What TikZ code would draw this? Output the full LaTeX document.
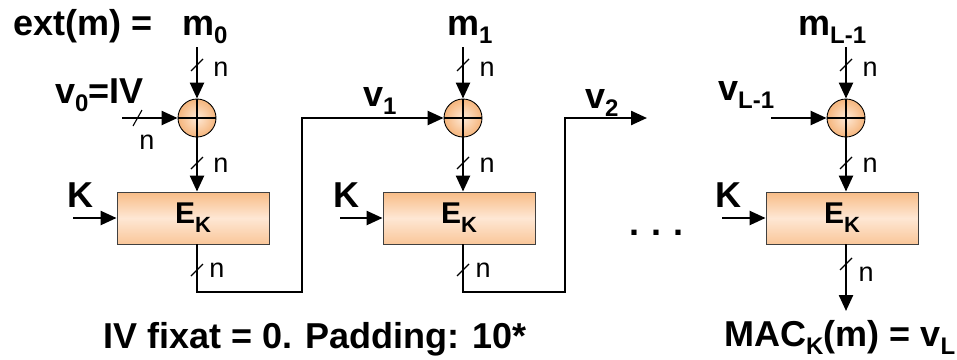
\documentclass[tikz,border=0pt]{standalone}
\usepackage{fontspec}
\setmainfont{Liberation Sans}
\usetikzlibrary{arrows.meta,calc}
\definecolor{boxdark}{HTML}{F8BC86}
\definecolor{boxlight}{HTML}{FEE7D4}
\definecolor{balldark}{HTML}{F5B57C}
\definecolor{balllight}{HTML}{FEE9D6}
\newcommand\sbb[1]{\raisebox{-8pt}{\fontsize{24}{24}\selectfont #1}}
\newcommand\sbe[1]{\raisebox{-9pt}{\fontsize{22}{22}\selectfont #1}}
\tikzset{
  lbl/.style={inner sep=0pt, anchor=base west, font=\bfseries\fontsize{36}{40}\selectfont},
  nl/.style={inner sep=0pt, font=\fontsize{27}{30}\selectfont},
  wire/.style={line width=2.4pt},
  arr/.style={line width=2.4pt, -{Triangle[length=16pt,width=14pt]}},
  busm/.style={line width=1.1pt},
  xorc/.style={circle, draw=black, line width=0.9pt, minimum size=38pt, inner sep=0pt,
     inner color=balllight, outer color=balldark,
     path picture={\draw[line width=1.5pt] (path picture bounding box.north) -- (path picture bounding box.south)
        (path picture bounding box.west) -- (path picture bounding box.east);}},
  ebox/.style={rectangle, draw=black!75, line width=0.9pt, minimum width=152pt, minimum height=52pt,
     inner sep=0pt, top color=boxdark, bottom color=boxdark!75!boxlight, middle color=boxlight,
     font=\bfseries\fontsize{30}{32}\selectfont}
}
\begin{document}
\begin{tikzpicture}[x=1pt,y=-1pt]
\useasboundingbox (0,0) rectangle (957,359);

% text labels
\node[lbl] (ext) at (13,35) {ext(m) =};
\node[lbl] (m0) at (182,35) {m\sbb{0}};
\node[lbl] (m1) at (447,35) {m\sbb{1}};
\node[lbl] (mL) at (798,35) {m\sbb{L-1}};
\node[lbl] (v0) at (55,103) {v\sbb{0}=IV};
\node[lbl] (v1) at (363,106) {v\sbb{1}};
\node[lbl] (v2) at (585,108) {v\sbb{2}};
\node[lbl] (vL) at (718,100) {v\sbb{L-1}};
\node[lbl] (K1) at (67,207) {K};
\node[lbl] (K2) at (333,207) {K};
\node[lbl] (K3) at (715,207) {K};
\node[lbl] (dots) at (629,235) {.\,\,.\,\,.};
\node[lbl] (note) at (103,348) {IV fixat = 0. Padding: 10*};
\node[lbl] (mac) at (724,346) {MAC\sbb{K}(m) = v\sbb{L}};

% xor circles
\node[xorc] (x1) at (197,118) {};
\node[xorc] (x2) at (463,118) {};
\node[xorc] (x3) at (846,118) {};

% boxes
\node[ebox] (b1) at (193,218) {E\sbe{K}};
\node[ebox] (b2) at (459,218) {E\sbe{K}};
\node[ebox] (b3) at (842,218) {E\sbe{K}};

% coordinates
\coordinate (s1) at (197,47);
\coordinate (s2) at (463,47);
\coordinate (s3) at (846,47);
\coordinate (iv) at (122,118);
\coordinate (vLs) at (771,118);
\coordinate (k1) at (73,218);
\coordinate (k2) at (340,218);
\coordinate (k3) at (722,218);
\coordinate (c1a) at (197,292);
\coordinate (c1b) at (302,292);
\coordinate (c1c) at (302,118);
\coordinate (c2a) at (463,292);
\coordinate (c2b) at (565,292);
\coordinate (c2c) at (565,118);
\coordinate (v2e) at (647,118);
\coordinate (out) at (846,311);

% arrows into xor
\draw[arr] (s1) -- (x1);
\draw[arr] (s2) -- (x2);
\draw[arr] (s3) -- (x3);
\draw[arr] (iv) -- (x1);
\draw[arr] (vLs) -- (x3);
% xor to box
\draw[arr] (x1) -- (x1 |- b1.north);
\draw[arr] (x2) -- (x2 |- b2.north);
\draw[arr] (x3) -- (x3 |- b3.north);
% key arrows
\draw[arr] (k1) -- (b1.west);
\draw[arr] (k2) -- (b2.west);
\draw[arr] (k3) -- (b3.west);
% chaining
\draw[arr] (c1a |- b1.south) -- (c1a) -- (c1b) -- (c1c) -- (x2);
\draw[arr] (c2a |- b2.south) -- (c2a) -- (c2b) -- (c2c) -- (v2e);
\draw[arr] (out |- b3.south) -- (out);

% bus width marks
\foreach \px/\py in {197/65, 463/65, 846/65, 197/163, 463/163, 846/163, 197/270, 463/270, 846/264}
  \draw[busm] (\px-6,\py+6) -- (\px+6,\py-6);
\draw[busm] (133,126) -- (142,110);

% n labels
\node[nl] (n1) at (221,69) {n};
\node[nl] (n2) at (487,69) {n};
\node[nl] (n3) at (870,69) {n};
\node[nl] (n4) at (221,165) {n};
\node[nl] (n5) at (487,165) {n};
\node[nl] (n6) at (870,165) {n};
\node[nl] (n7) at (217,270) {n};
\node[nl] (n8) at (483,270) {n};
\node[nl] (n9) at (866,274) {n};
\node[nl] (n10) at (147,142) {n};
\end{tikzpicture}
\end{document}
